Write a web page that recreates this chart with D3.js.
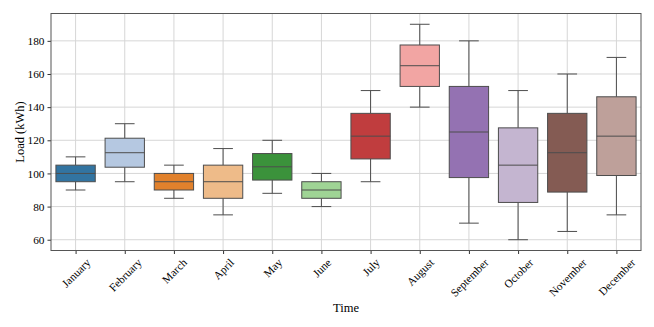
<!DOCTYPE html>
<html>
<head>
<meta charset="utf-8">
<script src="https://cdn.jsdelivr.net/npm/d3@7"></script>
<style>
  body { margin: 0; background: #fff; }
  svg { display: block; font-family: "Liberation Serif", "Times New Roman", serif; }
</style>
</head>
<body>
<div class="chart"></div>
<script>
// month names on the x axis
const months = ['January','February','March','April','May','June','July','August','September','October','November','December'];

// box stats (kWh)
const whiskerLow  = [90, 95, 85, 75, 88, 80, 95, 140, 70, 60, 65, 75];
const q1          = [95, 103.75, 90, 85, 96, 85, 108.75, 152.5, 97.5, 82.5, 88.75, 98.75];
const medians     = [100, 112.5, 95, 95, 104, 90, 122.5, 165, 125, 105, 112.5, 122.5];
const q3          = [105, 121.25, 100, 105, 112, 95, 136.25, 177.5, 152.5, 127.5, 136.25, 146.25];
const whiskerHigh = [110, 130, 105, 115, 120, 100, 150, 190, 180, 150, 160, 170];

const yTicks = [60, 80, 100, 120, 140, 160, 180];

const palette = ['#1f77b4','#aec7e8','#ff7f0e','#ffbb78','#2ca02c','#98df8a','#d62728','#ff9896','#9467bd','#c5b0d5','#8c564b','#c49c94'];

// seaborn-ish desaturation
const boxColor = c => { const h = d3.hsl(c); h.s *= 0.75; return h.formatHex(); };

const data = months.map((m, i) => ({
  month: m, lo: whiskerLow[i], q1: q1[i], med: medians[i], q3: q3[i], hi: whiskerHigh[i],
  color: boxColor(palette[i])
}));

const width = 654, height = 327;
const margin = {left: 51, right: 13, top: 13.5, bottom: 76.5};
const w = width - margin.left - margin.right;
const h = height - margin.top - margin.bottom;
const fs = 11.3;

const svg = d3.select('.chart').append('svg')
  .attr('width', width).attr('height', height);

const g = svg.append('g').attr('transform', `translate(${margin.left},${margin.top})`);

const x = d3.scaleLinear().domain([-0.5, 11.5]).range([0, w]);
const y = d3.scaleLinear().domain([53.5, 196.5]).range([h, 0]);
const step = x(1) - x(0);
const boxW = step * 0.8;

const edge = '#4d4d4d';
const gridCol = '#d6d6d6';

// grid
g.append('g').selectAll('line.hgrid').data(yTicks).enter().append('line')
  .attr('x1', 0).attr('x2', w)
  .attr('y1', d => y(d)).attr('y2', d => y(d))
  .attr('stroke', gridCol).attr('stroke-width', 1);
g.append('g').selectAll('line.vgrid').data(d3.range(12)).enter().append('line')
  .attr('y1', 0).attr('y2', h)
  .attr('x1', d => x(d)).attr('x2', d => x(d))
  .attr('stroke', gridCol).attr('stroke-width', 1);

// boxes
const box = g.selectAll('g.box').data(data).enter().append('g').attr('class', 'box');
box.append('line')
  .attr('x1', (d, i) => x(i)).attr('x2', (d, i) => x(i))
  .attr('y1', d => y(d.q3)).attr('y2', d => y(d.hi))
  .attr('stroke', edge).attr('stroke-width', 1);
box.append('line')
  .attr('x1', (d, i) => x(i)).attr('x2', (d, i) => x(i))
  .attr('y1', d => y(d.q1)).attr('y2', d => y(d.lo))
  .attr('stroke', edge).attr('stroke-width', 1);
box.append('line')
  .attr('x1', (d, i) => x(i) - boxW / 4).attr('x2', (d, i) => x(i) + boxW / 4)
  .attr('y1', d => y(d.hi)).attr('y2', d => y(d.hi))
  .attr('stroke', edge).attr('stroke-width', 1);
box.append('line')
  .attr('x1', (d, i) => x(i) - boxW / 4).attr('x2', (d, i) => x(i) + boxW / 4)
  .attr('y1', d => y(d.lo)).attr('y2', d => y(d.lo))
  .attr('stroke', edge).attr('stroke-width', 1);
box.append('rect')
  .attr('x', (d, i) => x(i) - boxW / 2).attr('width', boxW)
  .attr('y', d => y(d.q3)).attr('height', d => y(d.q1) - y(d.q3))
  .attr('fill', d => d.color).attr('stroke', edge).attr('stroke-width', 1);
box.append('line')
  .attr('x1', (d, i) => x(i) - boxW / 2).attr('x2', (d, i) => x(i) + boxW / 2)
  .attr('y1', d => y(d.med)).attr('y2', d => y(d.med))
  .attr('stroke', edge).attr('stroke-width', 1);

// axes
const yAxis = g.append('g').call(d3.axisLeft(y).tickValues(yTicks).tickSize(3.5).tickPadding(3));
yAxis.select('.domain').remove();
yAxis.selectAll('line').attr('stroke', '#333');
yAxis.selectAll('text').attr('font-size', fs).attr('fill', '#000').attr('font-family', '"Liberation Serif", serif');

const xAxis = g.append('g').attr('transform', `translate(0,${h})`)
  .call(d3.axisBottom(x).tickValues(d3.range(12)).tickFormat(i => months[i]).tickSize(3.5));
xAxis.select('.domain').remove();
xAxis.selectAll('line').attr('stroke', '#333');
xAxis.selectAll('text')
  .attr('font-size', fs).attr('fill', '#000').attr('font-family', '"Liberation Serif", serif')
  .attr('text-anchor', 'middle').attr('dy', null)
  .each(function () {
    // matplotlib-style: rotate about the centre, then hang the rotated box under the tick
    const t = d3.select(this);
    const tw = this.getComputedTextLength();
    const th = fs * 0.75;
    const half = (tw + th) * Math.SQRT1_2 / 2;
    t.attr('y', null)
     .attr('dominant-baseline', 'central')
     .attr('transform', `translate(0,${7 + half}) rotate(-45)`);
  });

// frame
g.append('rect').attr('width', w).attr('height', h)
  .attr('fill', 'none').attr('stroke', '#555').attr('stroke-width', 1);

// titles
svg.append('text')
  .attr('x', margin.left + w / 2).attr('y', 312)
  .attr('text-anchor', 'middle').attr('font-size', 12.5).attr('fill', '#000')
  .text('Time');
svg.append('text')
  .attr('transform', `translate(24,${margin.top + h / 2}) rotate(-90)`)
  .attr('text-anchor', 'middle').attr('font-size', 12.5).attr('fill', '#000')
  .text('Load (kWh)');
</script>
</body>
</html>
